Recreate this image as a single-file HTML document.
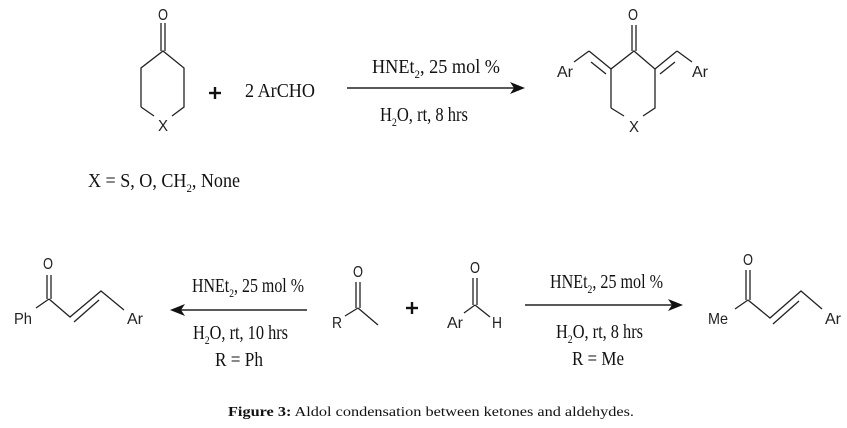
<!DOCTYPE html>
<html><head><style>
html,body{margin:0;padding:0;background:#fff;}
svg{display:block;}
.s{font-family:"Liberation Sans",sans-serif;font-size:16px;fill:#222;}
.t{font-family:"Liberation Serif",serif;font-size:20px;fill:#111;}
</style></head><body>
<svg width="847" height="428" viewBox="0 0 847 428" xmlns="http://www.w3.org/2000/svg">
<g stroke="#222" stroke-width="1.3" fill="none">
<line x1="161" y1="23" x2="161" y2="51"/><line x1="165" y1="23" x2="165" y2="51"/>
<polyline points="141,107 141,68 163,51 184,68 184,107 172,116"/>
<line x1="141" y1="107" x2="154" y2="116"/>
<line x1="347" y1="88" x2="515" y2="88" stroke-width="1.6"/>
<line x1="632" y1="25" x2="632" y2="51"/><line x1="636" y1="25" x2="636" y2="51"/>
<polyline points="611,108 611,69 634,51 655,69 655,108 643,116"/>
<line x1="611" y1="108" x2="624" y2="116"/>
<line x1="611" y1="69" x2="589" y2="51"/><line x1="606" y1="74" x2="591" y2="62"/>
<line x1="589" y1="51" x2="574" y2="62"/>
<line x1="655" y1="69" x2="677" y2="51"/><line x1="660" y1="74" x2="675" y2="62"/>
<line x1="677" y1="51" x2="692" y2="62"/>
<line x1="47" y1="275" x2="47" y2="299"/><line x1="51" y1="275" x2="51" y2="299"/>
<line x1="49" y1="299" x2="36" y2="308"/>
<polyline points="49,299 70,317 101,291 124,310"/>
<line x1="74" y1="322" x2="99" y2="300"/>
<line x1="180" y1="310" x2="307" y2="310" stroke-width="1.6"/>
<line x1="356" y1="282" x2="356" y2="308"/><line x1="360" y1="282" x2="360" y2="308"/>
<line x1="358" y1="308" x2="345" y2="316"/><line x1="358" y1="308" x2="378" y2="325"/>
<line x1="473" y1="278" x2="473" y2="305"/><line x1="477" y1="278" x2="477" y2="305"/>
<line x1="475" y1="305" x2="464" y2="313"/><line x1="475" y1="305" x2="490" y2="317"/>
<line x1="525" y1="305" x2="673" y2="305" stroke-width="1.6"/>
<line x1="746" y1="270" x2="746" y2="300"/><line x1="750" y1="270" x2="750" y2="300"/>
<line x1="748" y1="300" x2="735" y2="309"/>
<polyline points="748,300 770,318 801,291 822,309"/>
<line x1="773" y1="324" x2="799" y2="301"/>
</g>
<polygon points="525,88 510,82 514,88 510,94" fill="#111"/>
<polygon points="170,310 185,304 181,310 185,316" fill="#111"/>
<polygon points="683,305 668,299 672,305 668,311" fill="#111"/>
<g stroke="#111" stroke-width="2.4"><line x1="209" y1="93" x2="221" y2="93"/><line x1="215" y1="87" x2="215" y2="99"/>
<line x1="406" y1="308" x2="418" y2="308"/><line x1="412" y1="302" x2="412" y2="314"/></g>
<g class="s" text-anchor="middle">
<text x="163" y="20" textLength="10" lengthAdjust="spacingAndGlyphs">O</text><text x="163" y="131" textLength="10" lengthAdjust="spacingAndGlyphs">X</text>
<text x="633" y="20" textLength="10" lengthAdjust="spacingAndGlyphs">O</text><text x="634" y="132" textLength="10" lengthAdjust="spacingAndGlyphs">X</text>
<text x="565" y="77" textLength="16" lengthAdjust="spacingAndGlyphs">Ar</text>
<text x="700" y="77" textLength="16" lengthAdjust="spacingAndGlyphs">Ar</text>
<text x="48" y="269" textLength="10" lengthAdjust="spacingAndGlyphs">O</text>
<text x="23" y="324" textLength="18" lengthAdjust="spacingAndGlyphs">Ph</text>
<text x="135" y="324" textLength="16" lengthAdjust="spacingAndGlyphs">Ar</text>
<text x="358" y="277" textLength="10" lengthAdjust="spacingAndGlyphs">O</text><text x="337" y="328" textLength="10" lengthAdjust="spacingAndGlyphs">R</text>
<text x="475" y="273" textLength="10" lengthAdjust="spacingAndGlyphs">O</text>
<text x="455" y="328" textLength="16" lengthAdjust="spacingAndGlyphs">Ar</text>
<text x="497" y="328" textLength="10" lengthAdjust="spacingAndGlyphs">H</text>
<text x="748" y="265" textLength="10" lengthAdjust="spacingAndGlyphs">O</text>
<text x="718" y="324" textLength="20" lengthAdjust="spacingAndGlyphs">Me</text>
<text x="833" y="324" textLength="16" lengthAdjust="spacingAndGlyphs">Ar</text>
</g>
<g class="t">
<text x="245" y="97" textLength="70" lengthAdjust="spacingAndGlyphs">2 ArCHO</text>
<text x="88" y="187" textLength="152" lengthAdjust="spacingAndGlyphs">X = S, O, CH<tspan font-size="12" dy="5">2</tspan><tspan dy="-5">, None</tspan></text>
<text x="372" y="73" textLength="128" lengthAdjust="spacingAndGlyphs">HNEt<tspan font-size="12" dy="5">2</tspan><tspan dy="-5">, 25 mol %</tspan></text>
<text x="380" y="121" textLength="88" lengthAdjust="spacingAndGlyphs">H<tspan font-size="12" dy="5">2</tspan><tspan dy="-5">O, rt, 8 hrs</tspan></text>
<text x="192" y="292" textLength="112" lengthAdjust="spacingAndGlyphs">HNEt<tspan font-size="12" dy="5">2</tspan><tspan dy="-5">, 25 mol %</tspan></text>
<text x="193" y="339" textLength="95" lengthAdjust="spacingAndGlyphs">H<tspan font-size="12" dy="5">2</tspan><tspan dy="-5">O, rt, 10 hrs</tspan></text>
<text x="215" y="366" textLength="48" lengthAdjust="spacingAndGlyphs">R = Ph</text>
<text x="550" y="288" textLength="113" lengthAdjust="spacingAndGlyphs">HNEt<tspan font-size="12" dy="5">2</tspan><tspan dy="-5">, 25 mol %</tspan></text>
<text x="556" y="338" textLength="87" lengthAdjust="spacingAndGlyphs">H<tspan font-size="12" dy="5">2</tspan><tspan dy="-5">O, rt, 8 hrs</tspan></text>
<text x="572" y="365" textLength="52" lengthAdjust="spacingAndGlyphs">R = Me</text>
</g>
<text x="228" y="416" font-family="'Liberation Serif',serif" font-size="13.5" fill="#111" textLength="406" lengthAdjust="spacingAndGlyphs"><tspan font-weight="bold">Figure 3:</tspan> Aldol condensation between ketones and aldehydes.</text>
</svg>
</body></html>
